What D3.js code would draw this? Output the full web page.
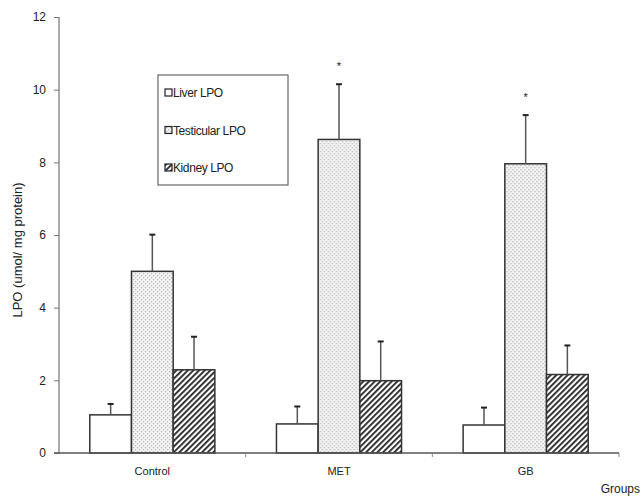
<!DOCTYPE html>
<html>
<head>
<meta charset="utf-8">
<script src="https://cdn.jsdelivr.net/npm/d3@7"></script>
<style>
  body { margin: 0; background: #fff; }
  text { font-family: "Liberation Sans", Arial, sans-serif; fill: #222; }
</style>
</head>
<body>
<div id="chart"></div>
<script>
// data
let groups = ['Control', 'MET', 'GB'];
let seriesNames = ['Liver LPO', 'Testicular LPO', 'Kidney LPO'];
let liver = [1.05, 0.80, 0.77];
let testicular = [5.00, 8.63, 7.96];
let kidney = [2.29, 1.99, 2.16];
let liverErr = [0.30, 0.48, 0.48];
let testicularErr = [1.01, 1.52, 1.34];
let kidneyErr = [0.91, 1.08, 0.80];
let starred = [false, true, true]; // asterisk above testicular bar
let yTicks = [0, 2, 4, 6, 8, 10, 12];

let w = 643, h = 497;
let padding = {top: 17, right: 24, bottom: 44, left: 59};
let width = w - padding.left - padding.right;
let height = h - padding.top - padding.bottom;

let values = [liver, testicular, kidney];
let errors = [liverErr, testicularErr, kidneyErr];

let svg = d3.select('#chart').append('svg')
  .attr('width', w)
  .attr('height', h);

// patterns
let defs = svg.append('defs');
let dots = defs.append('pattern')
  .attr('id', 'dots')
  .attr('patternUnits', 'userSpaceOnUse')
  .attr('width', 4).attr('height', 4);
dots.append('rect').attr('width', 4).attr('height', 4).attr('fill', '#f4f4f4');
dots.append('rect').attr('x', 0).attr('y', 0).attr('width', 1.3).attr('height', 1.3).attr('fill', '#b8b8b8');
dots.append('rect').attr('x', 2).attr('y', 2).attr('width', 1.3).attr('height', 1.3).attr('fill', '#b8b8b8');

let hatch = defs.append('pattern')
  .attr('id', 'hatch')
  .attr('patternUnits', 'userSpaceOnUse')
  .attr('width', 4).attr('height', 4)
  .attr('patternTransform', 'rotate(45)');
hatch.append('rect').attr('width', 4).attr('height', 4).attr('fill', '#fff');
hatch.append('rect').attr('x', 0).attr('y', 0).attr('width', 1.8).attr('height', 4).attr('fill', '#222');

let fills = ['#fff', 'url(#dots)', 'url(#hatch)'];

let xScale = d3.scaleBand().domain(groups).range([0, width]);
let xInner = d3.scaleBand().domain(d3.range(3))
  .range([xScale.bandwidth() * 0.165, xScale.bandwidth() * 0.835]);
let yScale = d3.scaleLinear().domain([0, 12]).range([height, 0]);

let g = svg.append('g').attr('transform', 'translate(' + padding.left + ',' + padding.top + ')');

// y axis
let yAxis = d3.axisLeft(yScale).tickValues(yTicks).tickSize(5).tickPadding(8);
let yG = g.append('g').call(yAxis);
yG.select('.domain').attr('stroke', '#aaa').attr('stroke-width', 2).attr('d', 'M0,0V' + height);
yG.selectAll('.tick line').attr('stroke', '#777');
yG.selectAll('.tick text').attr('font-size', 12).attr('fill', '#222')
  .attr('font-family', '"Liberation Sans", Arial, sans-serif');

// bars
groups.forEach(function (grp, i) {
  let cell = g.append('g').attr('transform', 'translate(' + xScale(grp) + ',0)');
  values.forEach(function (series, s) {
    let x = xInner(s);
    let bw = xInner.bandwidth();
    cell.append('rect')
      .attr('x', x)
      .attr('y', yScale(series[i]))
      .attr('width', bw)
      .attr('height', height - yScale(series[i]))
      .attr('fill', fills[s])
      .attr('stroke', '#333')
      .attr('stroke-width', 1.5);
    let cx = x + bw / 2;
    let top = yScale(series[i] + errors[s][i]);
    cell.append('line')
      .attr('x1', cx).attr('x2', cx)
      .attr('y1', yScale(series[i])).attr('y2', top)
      .attr('stroke', '#555').attr('stroke-width', 1.5);
    cell.append('line')
      .attr('x1', cx - 3).attr('x2', cx + 3)
      .attr('y1', top).attr('y2', top)
      .attr('stroke', '#222').attr('stroke-width', 2);
    if (s === 1 && starred[i]) {
      cell.append('text')
        .attr('x', cx)
        .attr('y', top - 14)
        .attr('text-anchor', 'middle')
        .attr('font-size', 11)
        .text('*');
    }
  });
});

// x axis
let xAxis = d3.axisBottom(xScale).tickSize(0).tickPadding(14);
let xG = g.append('g').attr('transform', 'translate(0,' + height + ')').call(xAxis);
xG.select('.domain').attr('stroke', '#555').attr('stroke-width', 1.5).attr('d', 'M-5,0H' + width);
xG.selectAll('.tick text').attr('font-size', 11).attr('fill', '#222')
  .attr('font-family', '"Liberation Sans", Arial, sans-serif');
// small separators between groups
xG.selectAll('.sep')
  .data(groups)
  .enter()
  .append('line')
  .attr('class', 'sep')
  .attr('x1', d => xScale(d) + xScale.bandwidth())
  .attr('x2', d => xScale(d) + xScale.bandwidth())
  .attr('y1', 0).attr('y2', 4)
  .attr('stroke', '#888');

// axis titles
svg.append('text')
  .text('Groups')
  .attr('x', 640)
  .attr('y', 493)
  .attr('text-anchor', 'end')
  .attr('font-size', 12);

svg.append('text')
  .text('LPO (umol/ mg protein)')
  .attr('font-size', 13)
  .attr('text-anchor', 'middle')
  .attr('transform', 'translate(22,250) rotate(-90)');

// legend
let legend = svg.append('g').attr('transform', 'translate(158,75)');
legend.append('rect')
  .attr('width', 130).attr('height', 110)
  .attr('fill', '#fff').attr('stroke', '#666').attr('stroke-width', 1.2);
seriesNames.forEach(function (name, s) {
  let y = 18 + s * 37.5;
  legend.append('rect')
    .attr('x', 7).attr('y', y - 4).attr('width', 7).attr('height', 7)
    .attr('fill', fills[s]).attr('stroke', '#222').attr('stroke-width', 1.2);
  legend.append('text')
    .attr('x', 15).attr('y', y + 4)
    .attr('font-size', 12)
    .attr('letter-spacing', -0.4)
    .text(name);
});
</script>
</body>
</html>
